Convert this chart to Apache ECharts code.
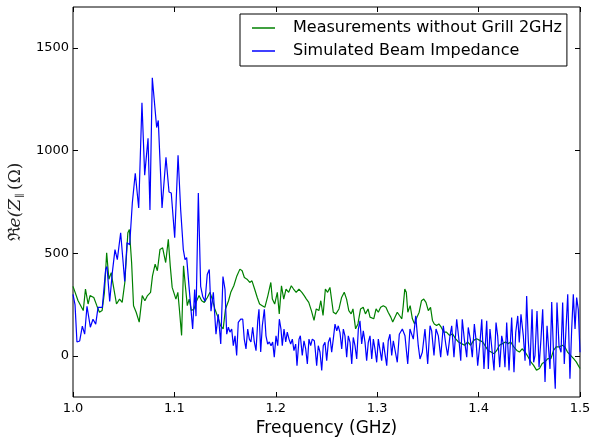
<!DOCTYPE html>
<html>
<head>
<meta charset="utf-8">
<script src="https://cdn.jsdelivr.net/npm/echarts@6/dist/echarts.min.js"></script>
<style>
  html, body { margin: 0; padding: 0; background: #fff; }
  #chart { width: 593px; height: 437px; }
</style>
</head>
<body>
<div id="chart"></div>
<script>
const greenFreq = [
  1.0000, 1.0049, 1.0101, 1.0123, 1.0149, 1.0168, 1.0205, 1.0235, 1.0261, 1.0287,
  1.0310, 1.0332, 1.0354, 1.0377, 1.0392, 1.0429, 1.0459, 1.0485, 1.0511, 1.0541,
  1.0556, 1.0578, 1.0597, 1.0623, 1.0653, 1.0683, 1.0709, 1.0735, 1.0765, 1.0784,
  1.0810, 1.0832, 1.0858, 1.0884, 1.0914, 1.0940, 1.0959, 1.0978, 1.0996, 1.1015,
  1.1034, 1.1049, 1.1071, 1.1090, 1.1108, 1.1127, 1.1146, 1.1168, 1.1194, 1.1213,
  1.1243, 1.1269, 1.1295, 1.1325, 1.1351, 1.1373, 1.1399, 1.1429, 1.1455, 1.1481,
  1.1504, 1.1534, 1.1556, 1.1586, 1.1616, 1.1646, 1.1668, 1.1690, 1.1716, 1.1743,
  1.1765, 1.1791, 1.1817, 1.1840, 1.1866, 1.1892, 1.1922, 1.1951, 1.1966, 1.1989,
  1.2015, 1.2034, 1.2056, 1.2078, 1.2101, 1.2127, 1.2153, 1.2175, 1.2201, 1.2228,
  1.2257, 1.2280, 1.2302, 1.2325, 1.2351, 1.2377, 1.2399, 1.2425, 1.2444, 1.2466,
  1.2489, 1.2511, 1.2534, 1.2549, 1.2567, 1.2593, 1.2623, 1.2649, 1.2675, 1.2698,
  1.2720, 1.2743, 1.2761, 1.2787, 1.2810, 1.2836, 1.2862, 1.2884, 1.2910, 1.2929,
  1.2948, 1.2966, 1.2989, 1.3011, 1.3034, 1.3060, 1.3086, 1.3108, 1.3134, 1.3153,
  1.3172, 1.3198, 1.3220, 1.3243, 1.3257, 1.3272, 1.3287, 1.3302, 1.3325, 1.3347,
  1.3369, 1.3392, 1.3414, 1.3437, 1.3459, 1.3481, 1.3504, 1.3526, 1.3545, 1.3563,
  1.3586, 1.3608, 1.3631, 1.3657, 1.3683, 1.3713, 1.3743, 1.3772, 1.3802, 1.3832,
  1.3862, 1.3892, 1.3922, 1.3951, 1.3981, 1.4011, 1.4041, 1.4071, 1.4093, 1.4123,
  1.4153, 1.4179, 1.4205, 1.4235, 1.4265, 1.4291, 1.4317, 1.4347, 1.4377, 1.4403,
  1.4429, 1.4459, 1.4489, 1.4515, 1.4541, 1.4571, 1.4601, 1.4627, 1.4653, 1.4683,
  1.4713, 1.4739, 1.4765, 1.4795, 1.4825, 1.4851, 1.4877, 1.4907, 1.4937, 1.4963,
  1.5000
];
const greenVal = [
  339, 270, 221, 326, 253, 294, 285, 245, 213, 221,
  310, 503, 374, 406, 358, 253, 277, 261, 358, 600,
  616, 455, 245, 213, 165, 294, 269, 294, 310, 390,
  447, 415, 519, 527, 455, 568, 439, 334, 342, 277,
  310, 229, 100, 439, 342, 245, 277, 221, 229, 261,
  294, 269, 261, 285, 310, 277, 229, 189, 148, 132,
  229, 269, 310, 342, 390, 423, 415, 382, 374, 358,
  366, 326, 285, 253, 245, 237, 294, 358, 277, 253,
  310, 205, 342, 277, 326, 310, 342, 326, 310, 326,
  310, 294, 277, 261, 221, 173, 229, 221, 269, 197,
  326, 310, 334, 334, 213, 205, 229, 285, 310, 277,
  221, 205, 229, 132, 156, 229, 237, 205, 229, 189,
  197, 181, 229, 213, 237, 245, 237, 213, 189, 165,
  173, 213, 197, 181, 245, 326, 310, 213, 245, 181,
  156, 189, 213, 269, 277, 261, 221, 237, 173, 156,
  148, 156, 140, 116, 116, 100, 108, 84, 68, 60,
  52, 68, 52, 76, 84, 76, 68, 44, 27, 19,
  11, 27, 52, 60, 68, 60, 68, 44, 27, 19,
  35, 19, -5, -29, -45, -69, -61, -37, -29, -13,
  -13, 27, 44, 44, 52, 44, 19, 3, -13, -29,
  -61
];

// simulated beam impedance (blue)
const blueFreq = [
  1.0000, 1.0020, 1.0039, 1.0066, 1.0092, 1.0115, 1.0138, 1.0171, 1.0197, 1.0224,
  1.0247, 1.0263, 1.0289, 1.0322, 1.0335, 1.0362, 1.0388, 1.0414, 1.0437, 1.0470,
  1.0510, 1.0533, 1.0559, 1.0585, 1.0614, 1.0648, 1.0680, 1.0707, 1.0740, 1.0759,
  1.0782, 1.0825, 1.0841, 1.0878, 1.0917, 1.0947, 1.0969, 1.1003, 1.1036, 1.1062,
  1.1088, 1.1105, 1.1121, 1.1144, 1.1180, 1.1200, 1.1213, 1.1236, 1.1259, 1.1279,
  1.1302, 1.1324, 1.1344, 1.1361, 1.1384, 1.1410, 1.1433, 1.1457, 1.1479, 1.1499,
  1.1516, 1.1532, 1.1548, 1.1565, 1.1581, 1.1598, 1.1614, 1.1630, 1.1654, 1.1674,
  1.1689, 1.1706, 1.1723, 1.1739, 1.1755, 1.1772, 1.1788, 1.1805, 1.1822, 1.1834,
  1.1851, 1.1867, 1.1887, 1.1903, 1.1920, 1.1936, 1.1953, 1.1969, 1.1985, 1.2002,
  1.2019, 1.2035, 1.2051, 1.2064, 1.2081, 1.2098, 1.2113, 1.2130, 1.2147, 1.2163,
  1.2179, 1.2196, 1.2209, 1.2229, 1.2242, 1.2261, 1.2278, 1.2295, 1.2311, 1.2327,
  1.2344, 1.2360, 1.2380, 1.2387, 1.2403, 1.2419, 1.2436, 1.2453, 1.2468, 1.2485,
  1.2502, 1.2518, 1.2535, 1.2551, 1.2567, 1.2584, 1.2601, 1.2616, 1.2633, 1.2650,
  1.2666, 1.2682, 1.2699, 1.2715, 1.2732, 1.2749, 1.2764, 1.2781, 1.2798, 1.2814,
  1.2830, 1.2847, 1.2863, 1.2880, 1.2896, 1.2912, 1.2929, 1.2946, 1.2962, 1.2978,
  1.2995, 1.3011, 1.3028, 1.3044, 1.3060, 1.3077, 1.3094, 1.3109, 1.3126, 1.3143,
  1.3159, 1.3176, 1.3198, 1.3218, 1.3248, 1.3274, 1.3301, 1.3323, 1.3340, 1.3356,
  1.3380, 1.3405, 1.3422, 1.3445, 1.3471, 1.3498, 1.3521, 1.3537, 1.3560, 1.3580,
  1.3603, 1.3626, 1.3652, 1.3676, 1.3695, 1.3718, 1.3735, 1.3757, 1.3784, 1.3807,
  1.3824, 1.3839, 1.3859, 1.3883, 1.3898, 1.3918, 1.3938, 1.3958, 1.3974, 1.3991,
  1.4014, 1.4031, 1.4053, 1.4080, 1.4096, 1.4112, 1.4129, 1.4152, 1.4172, 1.4188,
  1.4208, 1.4228, 1.4244, 1.4260, 1.4277, 1.4300, 1.4326, 1.4349, 1.4366, 1.4386,
  1.4401, 1.4418, 1.4441, 1.4458, 1.4474, 1.4490, 1.4507, 1.4527, 1.4543, 1.4556,
  1.4576, 1.4596, 1.4615, 1.4632, 1.4655, 1.4675, 1.4687, 1.4704, 1.4721, 1.4741,
  1.4756, 1.4773, 1.4793, 1.4813, 1.4829, 1.4845, 1.4862, 1.4879, 1.4901, 1.4918,
  1.4934, 1.4951, 1.4967, 1.4983, 1.5000
];
const blueVal = [
  300, 250, 68, 73, 145, 106, 242, 140, 179, 155,
  237, 242, 237, 421, 436, 266, 407, 518, 469, 600,
  363, 552, 542, 745, 890, 721, 1234, 881, 1060, 711,
  1355, 1113, 1147, 721, 968, 799, 794, 576, 978, 711,
  518, 469, 479, 339, 131, 324, 194, 794, 339, 290,
  266, 397, 421, 218, 310, 106, 203, 58, 387, 324,
  106, 140, 116, 131, 50, 98, 2, 164, 179, 179,
  82, 34, 131, 82, 68, 140, 68, 26, 171, 227,
  19, 147, 227, 98, 58, 68, 50, 68, -6, 98,
  50, 179, 131, 50, 131, 68, 116, 82, 58, 82,
  26, 58, -47, 82, 98, 2, 74, 34, -39, 82,
  50, 82, 74, 42, -47, 50, 18, -71, 50, 66,
  -23, 66, 90, 18, 82, 155, 122, 147, 114, 34,
  131, 98, -6, 98, 66, -39, 90, 50, -15, 131,
  171, 58, 122, 66, -23, 66, 98, -15, 82, 34,
  -31, 82, 74, -23, 66, 58, -47, 74, 106, 2,
  74, 66, -31, 106, 131, 98, -39, 131, 131, 82,
  195, 50, -15, 18, 131, -39, 147, 122, 2, 131,
  98, -6, 147, 58, 2, 98, 147, -6, 179, 74,
  -23, 179, 82, -6, 139, 82, -6, 155, 82, -47,
  66, 179, -63, 171, -63, 131, 131, -71, 163, 98,
  -55, 98, 58, -55, 163, -71, 187, -79, 114, 195,
  66, 203, 98, -23, 292, 74, -47, 227, -31, 2,
  219, -55, 82, 227, -127, 147, 155, -63, 263, -15,
  -160, 260, 50, 18, 260, -39, 131, 300, -111, 131,
  300, 131, 284, 227, 18
];

const xTicks = [1.0, 1.1, 1.2, 1.3, 1.4, 1.5];
const yTicks = [0, 500, 1000, 1500];

const FONT = 'DejaVu Sans';

function pairs(xs, ys) {
  return xs.map((x, i) => [x, ys[i]]);
}

const chart = echarts.init(document.getElementById('chart'), null, { renderer: 'canvas' });

const tickStyle = { inside: true, length: 5, lineStyle: { color: '#000', width: 1 } };
const noLine = { show: false, onZero: false };

chart.setOption({
  animation: false,
  backgroundColor: '#fff',
  grid: {
    left: 73, right: 13, top: 7, bottom: 40,
    outerBoundsMode: 'none',
    show: true, borderColor: '#000', borderWidth: 1, backgroundColor: 'transparent',
  },
  legend: {
    left: 240,
    top: 14,
    orient: 'vertical',
    backgroundColor: '#fff',
    borderColor: '#000',
    borderWidth: 1,
    borderRadius: 0,
    padding: [6, 5, 7, 12],
    itemWidth: 23,
    itemHeight: 1.5,
    itemGap: 7,
    icon: 'rect',
    textStyle: { fontFamily: FONT, fontSize: 16, color: '#000', lineHeight: 16, padding: [0, 0, 0, 13] },
    data: ['Measurements without Grill 2GHz', 'Simulated Beam Impedance'],
  },
  xAxis: [
    {
      type: 'value',
      min: 1.0,
      max: 1.5,
      interval: 0.1,
      name: 'Frequency (GHz)',
      nameLocation: 'middle',
      nameGap: 21,
      nameTextStyle: { fontFamily: FONT, fontSize: 17, color: '#000' },
      axisLine: noLine,
      axisTick: Object.assign({ customValues: xTicks }, tickStyle),
      splitLine: { show: false },
      axisLabel: {
        fontFamily: FONT, fontSize: 13, color: '#000', margin: 5,
        customValues: xTicks,
        formatter: (v) => v.toFixed(1),
      },
    },
    {
      type: 'value',
      position: 'top',
      min: 1.0,
      max: 1.5,
      interval: 0.1,
      axisLine: noLine,
      axisTick: Object.assign({ customValues: xTicks }, tickStyle),
      splitLine: { show: false },
      axisLabel: { show: false },
    },
  ],
  yAxis: [
    {
      type: 'value',
      min: -200,
      max: 1700,
      name: '{a|ℜ}{b|e(Z}{s|∥} {a|(Ω)}',
      nameLocation: 'middle',
      nameRotate: 90,
      nameGap: 46,
      nameTextStyle: {
        color: '#222',
        rich: {
          a: { fontFamily: 'DejaVu Serif', fontSize: 17, color: '#222' },
          b: { fontFamily: 'DejaVu Serif', fontStyle: 'italic', fontSize: 17, color: '#222' },
          s: { fontFamily: 'DejaVu Serif', fontSize: 10, color: '#222', padding: [8, 0, 0, 1] },
        },
      },
      axisLine: noLine,
      axisTick: Object.assign({ customValues: yTicks }, tickStyle),
      splitLine: { show: false },
      axisLabel: {
        fontFamily: FONT, fontSize: 13, color: '#000', margin: 4,
        customValues: yTicks,
        formatter: (v) => String(v),
      },
    },
    {
      type: 'value',
      position: 'right',
      min: -200,
      max: 1700,
      axisLine: noLine,
      axisTick: Object.assign({ customValues: yTicks }, tickStyle),
      splitLine: { show: false },
      axisLabel: { show: false },
    },
  ],
  series: [
    {
      name: 'Measurements without Grill 2GHz',
      type: 'line',
      data: pairs(greenFreq, greenVal),
      symbol: 'none',
      color: '#008000',
      lineStyle: { color: '#008000', width: 1.2 },
    },
    {
      name: 'Simulated Beam Impedance',
      type: 'line',
      data: pairs(blueFreq, blueVal),
      symbol: 'none',
      color: '#0000ff',
      lineStyle: { color: '#0000ff', width: 1.2 },
    },
  ],
});
</script>
</body>
</html>
